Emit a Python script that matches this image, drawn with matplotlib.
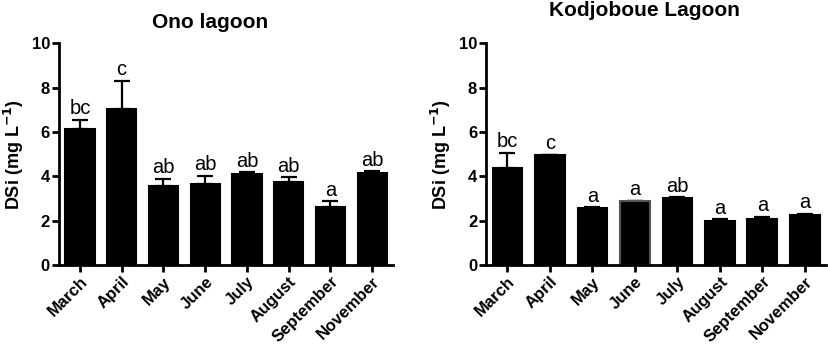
import matplotlib.pyplot as plt

plt.rcParams['font.family'] = ['Liberation Sans', 'DejaVu Sans']

months = ["March", "April", "May", "June", "July", "August", "September", "November"]

# Ono lagoon: mean and upper error
ono_mean = [6.15, 7.05, 3.57, 3.66, 4.10, 3.75, 2.60, 4.16]
ono_err = [0.40, 1.25, 0.32, 0.36, 0.08, 0.21, 0.27, 0.06]
ono_letters = ["bc", "c", "ab", "ab", "ab", "ab", "a", "ab"]

# Kodjoboue Lagoon
kod_mean = [4.35, 4.95, 2.55, 2.88, 3.03, 1.98, 2.06, 2.24]
kod_err = [0.72, 0.02, 0.05, 0.02, 0.04, 0.09, 0.12, 0.07]
kod_letters = ["bc", "c", "a", "a", "ab", "a", "a", "a"]

fig = plt.figure(figsize=(8.29, 3.48), dpi=100)
ax1 = fig.add_axes([0.0712, 0.2385, 0.403, 0.6375])
ax2 = fig.add_axes([0.5865, 0.2385, 0.41, 0.6375])


def draw(ax, mean, err, letters, edge_grey=None):
    x = list(range(len(months)))
    edges = ["black"] * len(months)
    if edge_grey is not None:
        edges[edge_grey] = "#555555"
    ax.bar(x, mean, width=0.7, color="black", edgecolor=edges, linewidth=1.5, zorder=2)
    ax.errorbar(x, mean, yerr=[[0] * len(mean), err], fmt="none", ecolor="black",
                elinewidth=1.6, capsize=5.5, capthick=1.6, zorder=1)
    for xi, m, e, lab in zip(x, mean, err, letters):
        ax.annotate(lab, (xi, m + e), xytext=(0, 1), textcoords="offset points",
                    ha="center", va="bottom", fontsize=14.5)
    ax.set_xlim(-0.5, 7.5)
    ax.set_ylim(0, 10)
    ax.set_yticks([0, 2, 4, 6, 8, 10])
    ax.set_xticks(x)
    ax.set_xticklabels(months, rotation=45, ha="right", rotation_mode="anchor",
                       fontweight="bold", fontsize=12)
    for lab in ax.get_yticklabels():
        lab.set_fontweight("bold")
        lab.set_fontsize(12)
    ax.spines["top"].set_visible(False)
    ax.spines["right"].set_visible(False)
    ax.spines["left"].set_linewidth(2)
    ax.spines["bottom"].set_linewidth(2)
    ax.tick_params(width=2, length=5, direction="out", pad=1.5)
    ax.set_ylabel("DSi (mg L$^{\\mathbf{-1}}$)", fontweight="bold", fontsize=13, labelpad=4)


draw(ax1, ono_mean, ono_err, ono_letters)
draw(ax2, kod_mean, kod_err, kod_letters, edge_grey=3)

fig.text(210 / 829, 1 - 23 / 348, "Ono lagoon", ha="center", va="center",
         fontweight="bold", fontsize=15)
fig.text(644 / 829, 1 - 11 / 348, "Kodjoboue Lagoon", ha="center", va="center",
         fontweight="bold", fontsize=15)

fig.savefig("out.png", dpi=100)
